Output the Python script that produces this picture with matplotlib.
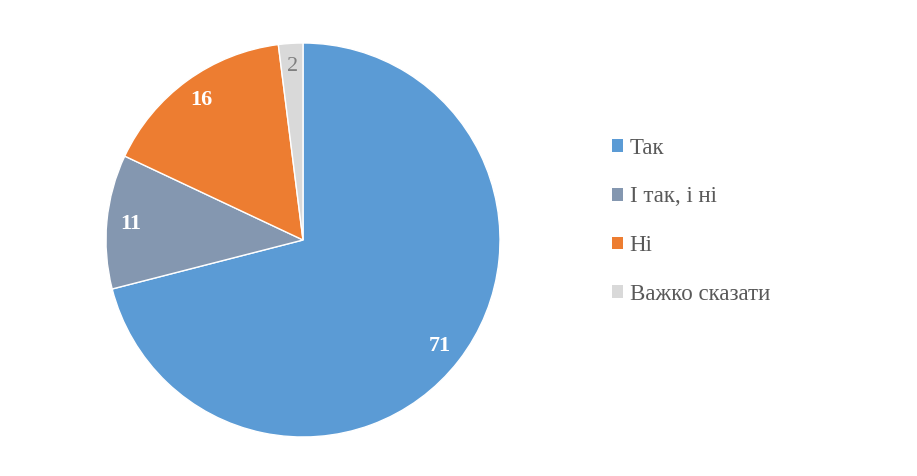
import matplotlib.pyplot as plt
import numpy as np
from matplotlib.patches import Patch

labels = ["Так", "І так, і ні", "Ні", "Важко сказати"]
values = [71, 11, 16, 2]
colors = ["#5B9BD5", "#8497B0", "#ED7D31", "#D9D9D9"]
label_colors = ["white", "white", "white", "#7F7F7F"]
label_weights = ["bold", "bold", "bold", "normal"]

plt.rcParams["font.family"] = ["Liberation Serif", "DejaVu Serif"]

fig = plt.figure(figsize=(9.17, 4.76), dpi=100)
# pie centre at (303, 240) px, radius 197 px
ax = fig.add_axes([106 / 917, 39 / 476, 394 / 917, 394 / 476])
wedges, _ = ax.pie(values, colors=colors, startangle=90, counterclock=False,
                   wedgeprops=dict(edgecolor="white", linewidth=1))
ax.set_xlim(-1, 1)
ax.set_ylim(-1, 1)
ax.set_aspect("equal")

for w, v, c, fw in zip(wedges, values, label_colors, label_weights):
    ang = np.deg2rad((w.theta1 + w.theta2) / 2)
    r = 0.88
    ax.text(r * np.cos(ang), r * np.sin(ang), str(v), ha="center", va="center",
            color=c, fontsize=16, fontweight=fw)

handles = [Patch(facecolor=c, edgecolor="none") for c in colors]
leg = fig.legend(handles, labels, loc="upper left", bbox_to_anchor=(591 / 917, 1 - 117 / 476),
                 frameon=False, fontsize=16.5, labelspacing=1.21, handlelength=0.48,
                 handleheight=0.48, handletextpad=0.3, labelcolor="#595959")

fig.savefig("out.png", dpi=100)
